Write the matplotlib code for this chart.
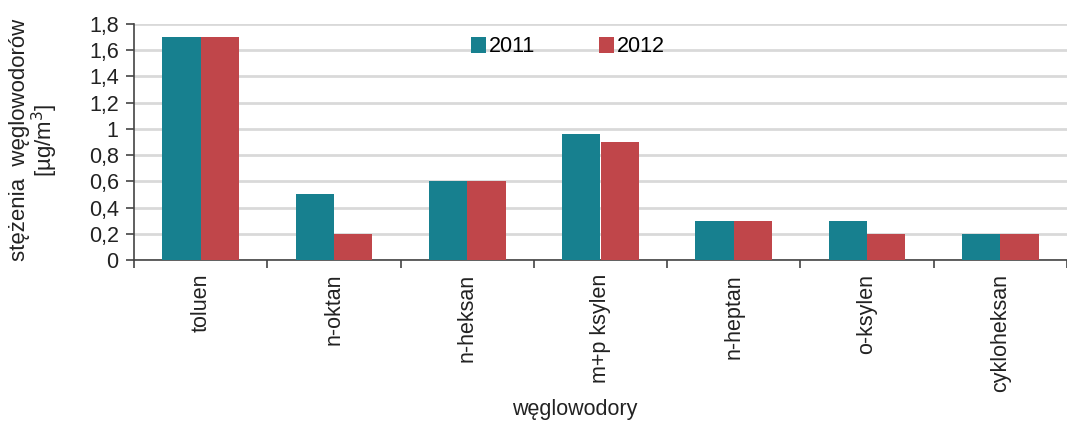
import numpy as np
import matplotlib
matplotlib.use("Agg")
import matplotlib.pyplot as plt
from matplotlib.ticker import FuncFormatter

plt.rcParams['font.family'] = ['Liberation Sans', 'DejaVu Sans']

categories = ["toluen", "n-oktan", "n-heksan", "m+p ksylen", "n-heptan", "o-ksylen", "cykloheksan"]
v2011 = [1.7, 0.5, 0.6, 0.96, 0.3, 0.3, 0.2]
v2012 = [1.7, 0.2, 0.6, 0.9, 0.3, 0.2, 0.2]

c2011 = "#17808F"
c2012 = "#C0464A"
fs = 15.5

fig = plt.figure(figsize=(10.67, 4.21), dpi=100)
ax = fig.add_axes([134/1067, 161/421, (1067-134)/1067, 236/421])

x = np.arange(len(categories))
w = 0.288
ax.bar(x - w/2, v2011, w, color=c2011, label="2011", zorder=3)
ax.bar(x + w/2, v2012, w, color=c2012, label="2012", zorder=3)

ax.set_ylim(0, 1.8)
ax.set_yticks(np.arange(0, 1.81, 0.2))
ax.yaxis.set_major_formatter(FuncFormatter(lambda v, p: ("%g" % round(v, 1)).replace(".", ",")))
ax.set_xlim(-0.5, 6.39)
ax.set_xticks(x)
ax.set_xticklabels(categories, rotation=90, fontsize=fs, color="#222222")
ax.set_xticks(np.arange(-0.5, 7, 1), minor=True)
ax.tick_params(axis='x', which='major', length=0, pad=10)
ax.tick_params(axis='x', which='minor', length=6, width=1.2, color="#444444")
ax.tick_params(axis='y', labelsize=fs, length=6, width=1.2, color="#444444", labelcolor="#222222", pad=5)

ax.grid(axis='y', color="#D9D9D9", linewidth=2, zorder=0)
for s in ['top', 'right']:
    ax.spines[s].set_visible(False)
for s in ['left', 'bottom']:
    ax.spines[s].set_color("#444444")
    ax.spines[s].set_linewidth(1.2)

ax.legend(loc='center', bbox_to_anchor=(568/1067, 1 - 47/421), bbox_transform=fig.transFigure,
          ncol=2, frameon=False, fontsize=fs, handlelength=0.7, handleheight=0.7,
          handletextpad=0.1, columnspacing=3.0)

fig.text(575/1067, 1 - 410/421, "węglowodory", ha='center', va='center', fontsize=fs, color="#222222")
fig.text(20/1067, 1 - 140/421, "stężenia  węglowodorów", rotation=90, ha='center', va='center', fontsize=16, color="#222222")
fig.text(45/1067, 1 - 140/421, "[µg/m$^3$]", rotation=90, ha='center', va='center', fontsize=16, color="#222222")

fig.savefig("out.png", dpi=100)
